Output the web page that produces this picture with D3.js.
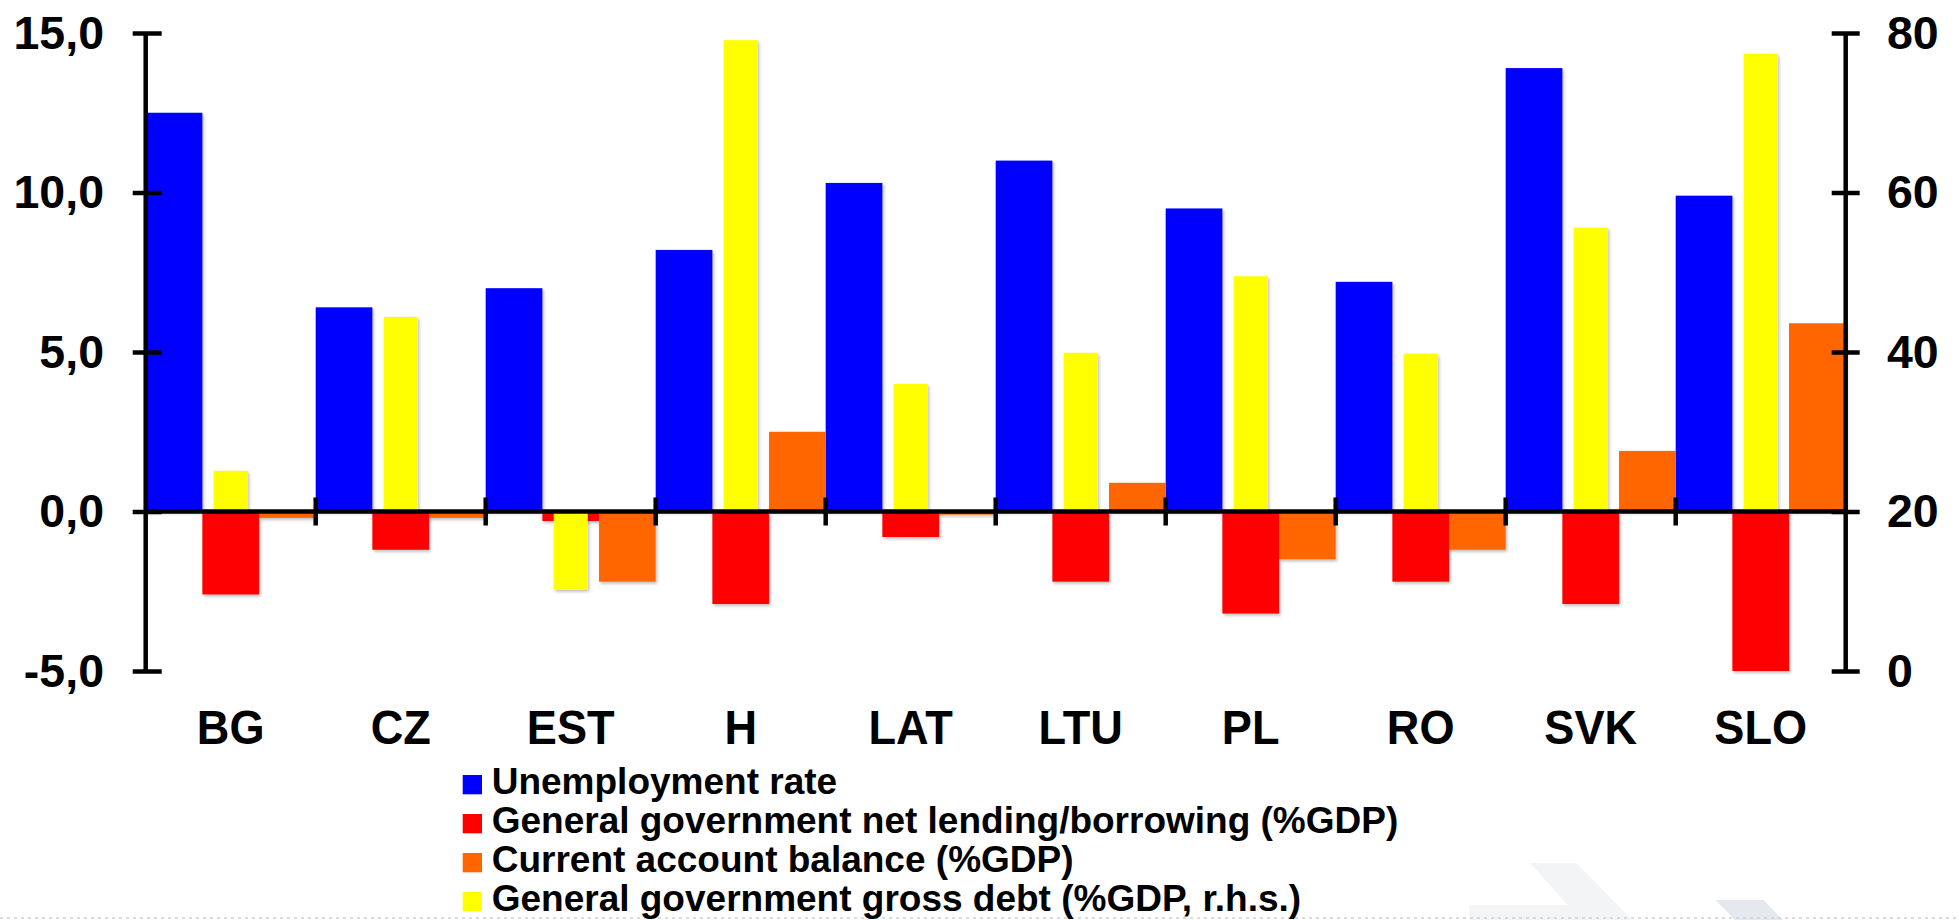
<!DOCTYPE html>
<html>
<head>
<meta charset="utf-8">
<script src="https://cdn.jsdelivr.net/npm/d3@7"></script>
<style>
  html, body { margin: 0; padding: 0; background: #ffffff; }
  svg { display: block; }
  text { font-family: "Liberation Sans", Arial, Helvetica, sans-serif; font-weight: bold; fill: #000; }
</style>
</head>
<body>
<script>
// ---- data ----
const categories = ["BG", "CZ", "EST", "H", "LAT", "LTU", "PL", "RO", "SVK", "SLO"];
const unemployment = [12.5, 6.4, 7.0, 8.2, 10.3, 11.0, 9.5, 7.2, 13.9, 9.9];
const netLending = [-2.6, -1.2, -0.3, -2.9, -0.8, -2.2, -3.2, -2.2, -2.9, -5.0];
const currentAccount = [-0.2, -0.2, -2.2, 2.5, -0.1, 0.9, -1.5, -1.2, 1.9, 5.9];
const grossDebt = [25.1, 44.4, 10.2, 79.1, 36.0, 39.9, 49.5, 39.8, 55.6, 77.4];
const leftTicks = [-5, 0, 5, 10, 15];
const rightTicks = [0, 20, 40, 60, 80];
const seriesNames = [
  "Unemployment rate",
  "General government net lending/borrowing (%GDP)",
  "Current account balance (%GDP)",
  "General government gross debt (%GDP, r.h.s.)"
];
const seriesColors = ["#0000ff", "#ff0000", "#ff6600", "#ffff00"];

// ---- layout ----
const W = 1959, H = 920;
const axL = 145.7, axR = 1845.7, yTop = 33, yBot = 671;

const svg = d3.select("body").append("svg").attr("width", W).attr("height", H);

const defs = svg.append("defs");
const f = defs.append("filter").attr("id", "shadow").attr("x", "-10%").attr("y", "-10%").attr("width", "130%").attr("height", "130%");
f.append("feDropShadow").attr("dx", 1.5).attr("dy", 2).attr("stdDeviation", 1.5)
  .attr("flood-color", "#000").attr("flood-opacity", 0.25);

// faint background logo shapes + dotted bottom line
svg.append("polygon")
  .attr("points", "1530,863 1576.5,863 1632,920 1469.5,920 1469.5,905 1567.6,905")
  .attr("fill", "#f3f4f6");
svg.append("polygon")
  .attr("points", "1715.5,900 1763.6,900 1783,920 1735,920")
  .attr("fill", "#e5e9ee");
svg.append("line").attr("x1", 0).attr("x2", W).attr("y1", 918).attr("y2", 918)
  .attr("stroke", "#d0d0d0").attr("stroke-width", 1.5).attr("stroke-dasharray", "3,4");

// ---- scales ----
const x0 = d3.scaleBand().domain(categories).range([axL, axR]).paddingInner(0).paddingOuter(0);
const x1 = d3.scaleBand().domain([0, 1, 2]).range([0, x0.bandwidth()]).padding(0);
const yL = d3.scaleLinear().domain([-5, 15]).range([yBot, yTop]);
const yR = d3.scaleLinear().domain([0, 80]).range([yBot, yTop]);

const primary = [unemployment, netLending, currentAccount];

// ---- primary bars ----
const gBars = svg.append("g").attr("filter", "url(#shadow)");
primary.forEach((vals, si) => {
  gBars.selectAll(null).data(vals).enter().append("rect")
    .attr("x", (d, i) => x0(categories[i]) + x1(si))
    .attr("width", x1.bandwidth())
    .attr("y", d => Math.min(yL(d), yL(0)))
    .attr("height", d => Math.abs(yL(d) - yL(0)))
    .attr("fill", seriesColors[si]);
});

// ---- secondary bars (debt, r.h.s., baseline at 20) ----
const yw = x0.bandwidth() / 5;
svg.append("g").attr("filter", "url(#shadow)")
  .selectAll("rect").data(grossDebt).enter().append("rect")
  .attr("x", (d, i) => x0(categories[i]) + x0.bandwidth() / 2 - yw / 2)
  .attr("width", yw)
  .attr("y", d => Math.min(yR(d), yR(20)))
  .attr("height", d => Math.abs(yR(d) - yR(20)))
  .attr("fill", seriesColors[3]);

// ---- zero line with category ticks ----
const y0 = yL(0);
svg.append("line").attr("x1", axL).attr("x2", axR).attr("y1", y0).attr("y2", y0)
  .attr("stroke", "#000").attr("stroke-width", 4.5);
svg.selectAll(null).data(categories.slice(1)).enter().append("line")
  .attr("x1", d => x0(d)).attr("x2", d => x0(d))
  .attr("y1", y0 - 14).attr("y2", y0 + 14)
  .attr("stroke", "#000").attr("stroke-width", 4.5);

// ---- axes ----
const loc = d3.formatLocale({ decimal: ",", thousands: ".", grouping: [3], currency: ["", ""], minus: "-" });
const fmtL = loc.format(".1f");

const gL = svg.append("g").attr("transform", `translate(${axL},0)`)
  .call(d3.axisLeft(yL).tickValues(leftTicks).tickFormat(fmtL).tickSizeOuter(0));
gL.select(".domain").attr("d", `M0,${yTop}V${yBot}`).attr("stroke", "#000").attr("stroke-width", 4.5);
gL.selectAll(".tick line").attr("x1", -13).attr("x2", 16).attr("stroke", "#000").attr("stroke-width", 4.5);
gL.selectAll(".tick text").attr("x", -41.7).attr("dy", "0.33em")
  .style("font-size", "46.5px").style("font-family", "'Liberation Sans', Arial, sans-serif").style("font-weight", "bold").attr("fill", "#000");

const gR = svg.append("g").attr("transform", `translate(${axR},0)`)
  .call(d3.axisRight(yR).tickValues(rightTicks).tickFormat(d3.format("d")).tickSizeOuter(0));
gR.select(".domain").attr("d", `M0,${yTop}V${yBot}`).attr("stroke", "#000").attr("stroke-width", 4.5);
gR.selectAll(".tick line").attr("x1", -14).attr("x2", 14).attr("stroke", "#000").attr("stroke-width", 4.5);
gR.selectAll(".tick text").attr("x", 41.3).attr("dy", "0.33em")
  .style("font-size", "46.5px").style("font-family", "'Liberation Sans', Arial, sans-serif").style("font-weight", "bold").attr("fill", "#000");

// ---- category labels ----
svg.append("g").selectAll("text").data(categories).enter().append("text")
  .attr("transform", d => `translate(${x0(d) + x0.bandwidth() / 2},744) scale(0.94,1)`)
  .attr("text-anchor", "middle")
  .style("font-size", "48px")
  .text(d => d);

// ---- legend ----
const lg = svg.append("g").attr("transform", "translate(462.7,775)");
const items = lg.selectAll("g").data(seriesNames).enter().append("g")
  .attr("transform", (d, i) => `translate(0,${i * 39})`);
items.append("rect").attr("width", 19.3).attr("height", 19.3).attr("fill", (d, i) => seriesColors[i]);
items.append("text").attr("x", 29).attr("y", 19.3).style("font-size", "37px").text(d => d);
</script>
</body>
</html>
